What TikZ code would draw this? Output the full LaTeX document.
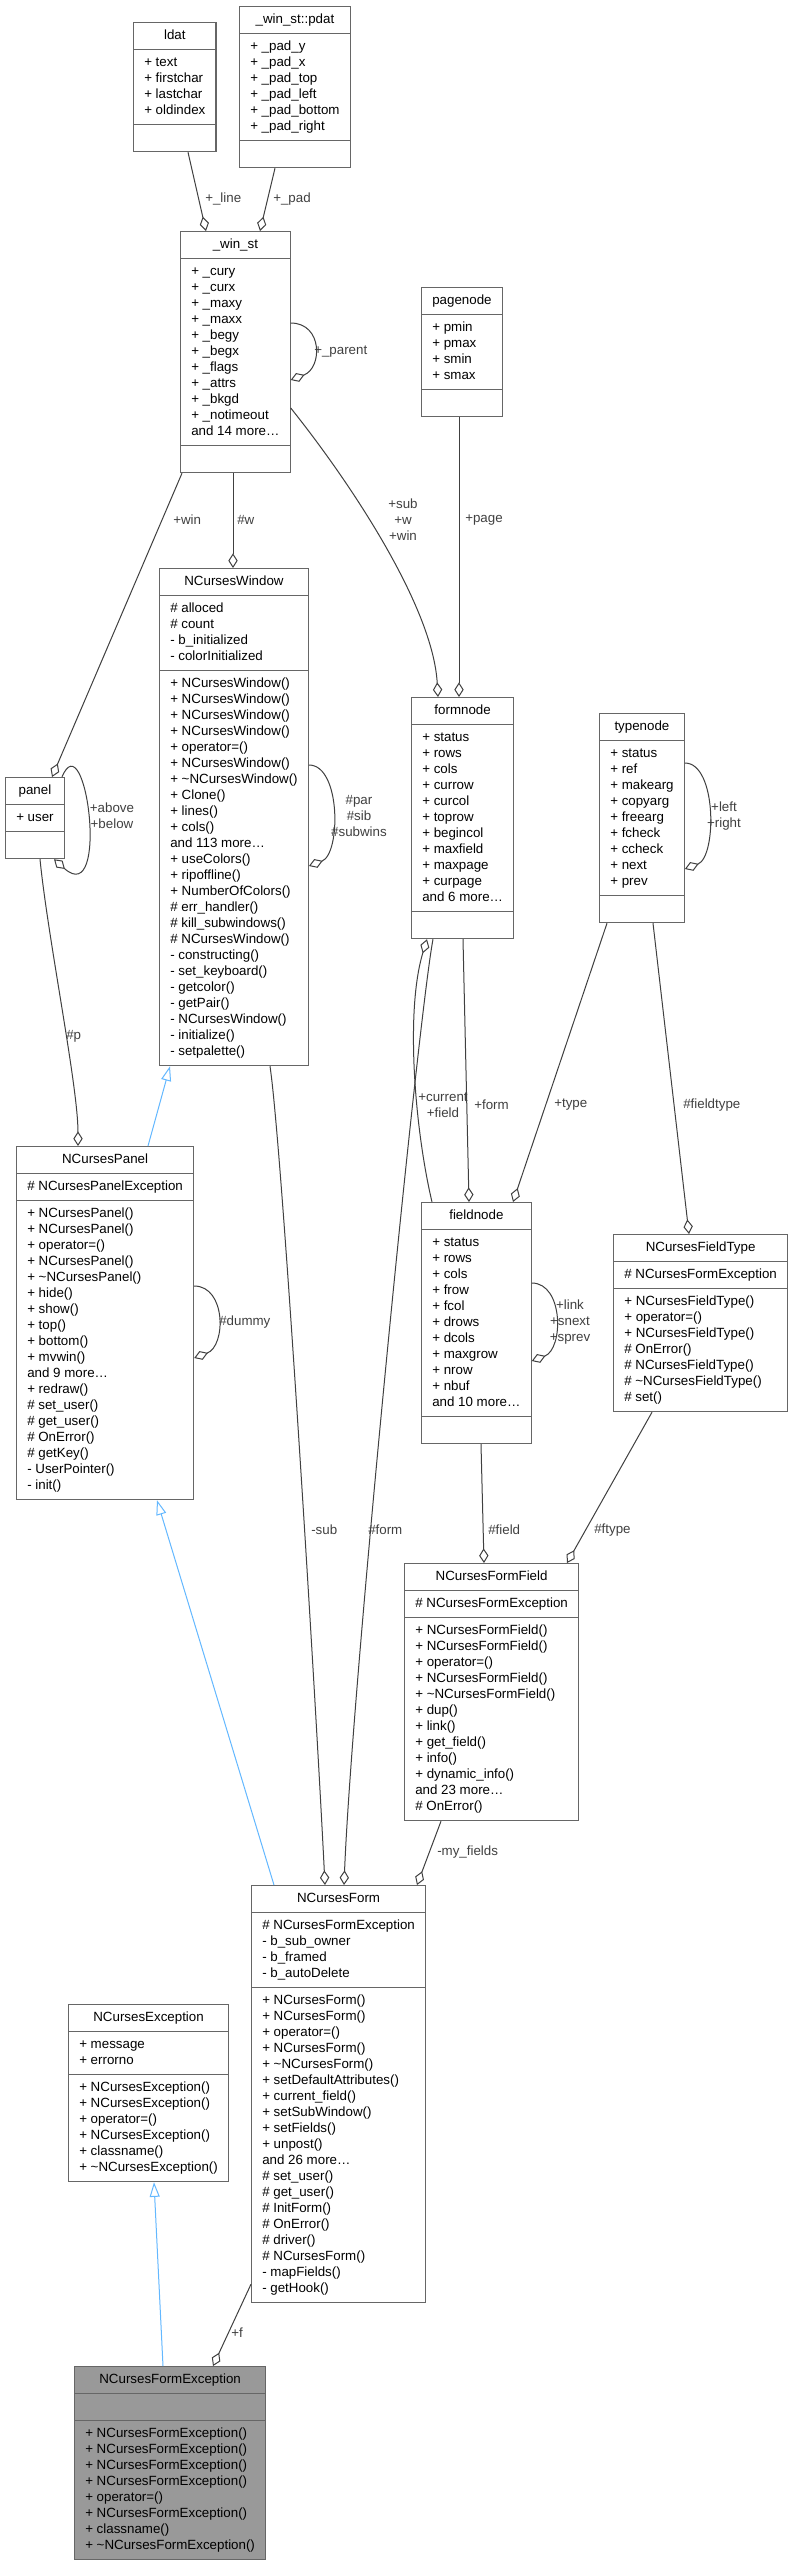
\documentclass[tikz,border=0pt]{standalone}
\usepackage{fontspec}
\setmainfont{Liberation Sans}
\usetikzlibrary{shapes.multipart, arrows.meta, calc}

\definecolor{boxline}{HTML}{666666}
\definecolor{edgeline}{HTML}{404040}
\definecolor{inherit}{HTML}{63B8FF}
\definecolor{current}{HTML}{999999}

% 类成员列表 (每行 12pt)
\newcommand{\members}[1]{\begin{tabular}{@{}l@{}}#1\end{tabular}}

\tikzset{
  classbox/.style={rectangle split, rectangle split parts=3,
    rectangle split part align={center,left,left},
    draw=boxline, fill=white, line width=0.9pt,
    inner xsep=8pt, inner ysep=3.675pt, anchor=north west,
    font=\fontsize{10}{12}\selectfont},
  aggr/.style={edgeline, line width=0.75pt, -{Diamond[open, length=11pt, width=7pt]}},
  inh/.style={inherit, line width=0.75pt, -{Triangle[open, length=11pt, width=7.5pt]}},
  lbl/.style={text=edgeline, font=\fontsize{10}{12}\selectfont, inner sep=0pt, anchor=west},
  lbls/.style={lbl, anchor=center, align=center},
}

\begin{document}
\begin{tikzpicture}[x=0.75pt, y=-0.75pt]
    % --- 画布 (像素坐标, y 向下) ---
    \fill[white] (0,0) rectangle (791,2564);

    % --- 类框 ---
    \node[classbox] (ldat) at (133,22) {\strut ldat
        \nodepart{two}\members{+ text\\+ firstchar\\+ lastchar\\+ oldindex}
        \nodepart{three}\strut};
    \node[classbox] (pdat) at (239,6) {\strut \_win\_st::pdat
        \nodepart{two}\members{+ \_pad\_y\\+ \_pad\_x\\+ \_pad\_top\\+ \_pad\_left\\+ \_pad\_bottom\\+ \_pad\_right}
        \nodepart{three}\strut};
    \node[classbox] (winst) at (180,231) {\strut \_win\_st
        \nodepart{two}\members{+ \_cury\\+ \_curx\\+ \_maxy\\+ \_maxx\\+ \_begy\\+ \_begx\\+ \_flags\\+ \_attrs\\+ \_bkgd\\+ \_notimeout\\and 14 more…}
        \nodepart{three}\strut};
    \node[classbox] (pagenode) at (421,287) {\strut pagenode
        \nodepart{two}\members{+ pmin\\+ pmax\\+ smin\\+ smax}
        \nodepart{three}\strut};
    \node[classbox] (ncwin) at (159,568) {\strut NCursesWindow
        \nodepart{two}\members{\# alloced\\\# count\\- b\_initialized\\- colorInitialized}
        \nodepart{three}\members{+ NCursesWindow()\\+ NCursesWindow()\\+ NCursesWindow()\\+ NCursesWindow()\\+ operator=()\\+ NCursesWindow()\\+ \textasciitilde NCursesWindow()\\+ Clone()\\+ lines()\\+ cols()\\and 113 more…\\+ useColors()\\+ ripoffline()\\+ NumberOfColors()\\\# err\_handler()\\\# kill\_subwindows()\\\# NCursesWindow()\\- constructing()\\- set\_keyboard()\\- getcolor()\\- getPair()\\- NCursesWindow()\\- initialize()\\- setpalette()}};
    \node[classbox] (panel) at (5,777) {\strut panel
        \nodepart{two}\members{+ user}
        \nodepart{three}\strut};
    \node[classbox] (formnode) at (411,697) {\strut formnode
        \nodepart{two}\members{+ status\\+ rows\\+ cols\\+ currow\\+ curcol\\+ toprow\\+ begincol\\+ maxfield\\+ maxpage\\+ curpage\\and 6 more…}
        \nodepart{three}\strut};
    \node[classbox] (typenode) at (599,713) {\strut typenode
        \nodepart{two}\members{+ status\\+ ref\\+ makearg\\+ copyarg\\+ freearg\\+ fcheck\\+ ccheck\\+ next\\+ prev}
        \nodepart{three}\strut};
    \node[classbox] (ncpanel) at (16,1146) {\strut NCursesPanel
        \nodepart{two}\members{\# NCursesPanelException}
        \nodepart{three}\members{+ NCursesPanel()\\+ NCursesPanel()\\+ operator=()\\+ NCursesPanel()\\+ \textasciitilde NCursesPanel()\\+ hide()\\+ show()\\+ top()\\+ bottom()\\+ mvwin()\\and 9 more…\\+ redraw()\\\# set\_user()\\\# get\_user()\\\# OnError()\\\# getKey()\\- UserPointer()\\- init()}};
    \node[classbox] (fieldnode) at (421,1202) {\strut fieldnode
        \nodepart{two}\members{+ status\\+ rows\\+ cols\\+ frow\\+ fcol\\+ drows\\+ dcols\\+ maxgrow\\+ nrow\\+ nbuf\\and 10 more…}
        \nodepart{three}\strut};
    \node[classbox] (fieldtype) at (613,1234) {\strut NCursesFieldType
        \nodepart{two}\members{\# NCursesFormException}
        \nodepart{three}\members{+ NCursesFieldType()\\+ operator=()\\+ NCursesFieldType()\\\# OnError()\\\# NCursesFieldType()\\\# \textasciitilde NCursesFieldType()\\\# set()}};
    \node[classbox] (formfield) at (404,1563) {\strut NCursesFormField
        \nodepart{two}\members{\# NCursesFormException}
        \nodepart{three}\members{+ NCursesFormField()\\+ NCursesFormField()\\+ operator=()\\+ NCursesFormField()\\+ \textasciitilde NCursesFormField()\\+ dup()\\+ link()\\+ get\_field()\\+ info()\\+ dynamic\_info()\\and 23 more…\\\# OnError()}};
    \node[classbox] (ncform) at (251,1885) {\strut NCursesForm
        \nodepart{two}\members{\# NCursesFormException\\- b\_sub\_owner\\- b\_framed\\- b\_autoDelete}
        \nodepart{three}\members{+ NCursesForm()\\+ NCursesForm()\\+ operator=()\\+ NCursesForm()\\+ \textasciitilde NCursesForm()\\+ setDefaultAttributes()\\+ current\_field()\\+ setSubWindow()\\+ setFields()\\+ unpost()\\and 26 more…\\\# set\_user()\\\# get\_user()\\\# InitForm()\\\# OnError()\\\# driver()\\\# NCursesForm()\\- mapFields()\\- getHook()}};
    \node[classbox] (ncexc) at (68,2004) {\strut NCursesException
        \nodepart{two}\members{+ message\\+ errorno}
        \nodepart{three}\members{+ NCursesException()\\+ NCursesException()\\+ operator=()\\+ NCursesException()\\+ classname()\\+ \textasciitilde NCursesException()}};
    % 当前类 (灰色)
    \node[classbox, fill=current] (formexc) at (74,2366) {\strut NCursesFormException
        \nodepart{two}\strut
        \nodepart{three}\members{+ NCursesFormException()\\+ NCursesFormException()\\+ NCursesFormException()\\+ NCursesFormException()\\+ operator=()\\+ NCursesFormException()\\+ classname()\\+ \textasciitilde NCursesFormException()}};

    % --- 聚合关系 (空心菱形) ---
    \draw[aggr] ($(ldat.south west)+(55,0)$) -- ($(winst.north west)+(26,0)$);
    \draw[aggr] ($(pdat.south west)+(36,0)$) -- ($(winst.north west)+(80,0)$);
    \draw[aggr] ($(winst.north east)+(0,92)$) .. controls +(32,0) and +(32,-12) .. ($(winst.north east)+(0,149)$);
    \draw[aggr] ($(winst.south west)+(2,0)$) -- ($(panel.north west)+(47,0)$);
    \draw[aggr] ($(winst.south west)+(53,0)$) -- ($(ncwin.north west)+(74,0)$);
    \draw[aggr] ($(winst.north east)+(0,177)$) .. controls +(60,75) and +(-5,-90) .. ($(formnode.north west)+(27,0)$);
    \draw[aggr] ($(pagenode.south west)+(38,0)$) -- ($(formnode.north west)+(48,0)$);
    \draw[aggr] ($(panel.north east)+(-3,0)$) .. controls +(24,-57) and +(56,50) .. ($(panel.south west)+(49,0)$);
    \draw[aggr] ($(panel.south west)+(35,0)$) .. controls +(8,80) and +(0,-60) .. ($(ncpanel.north west)+(62,0)$);
    \draw[aggr] ($(ncwin.north east)+(0,197)$) .. controls +(32,0) and +(32,-12) .. ($(ncwin.north east)+(0,298)$);
    \draw[aggr] ($(ncpanel.north east)+(0,140)$) .. controls +(32,0) and +(32,-12) .. ($(ncpanel.north east)+(0,212)$);
    \draw[aggr] ($(ncwin.south west)+(111,0)$) .. controls +(12,80) and +(-10,-200) .. ($(ncform.north west)+(74,0)$);
    \draw[aggr] ($(formnode.south west)+(22,0)$) .. controls +(-15,80) and +(8,-200) .. ($(ncform.north west)+(93,0)$);
    \draw[aggr] ($(fieldnode.north west)+(11,0)$) .. controls +(-17,-72) and +(-22,72) .. ($(formnode.south west)+(16,0)$);
    \draw[aggr] ($(formnode.south west)+(52,0)$) -- ($(fieldnode.north west)+(48,0)$);
    \draw[aggr] ($(typenode.south west)+(8,0)$) -- ($(fieldnode.north west)+(92,0)$);
    \draw[aggr] ($(typenode.north east)+(0,50)$) .. controls +(32,0) and +(32,-12) .. ($(typenode.north east)+(0,156)$);
    \draw[aggr] ($(typenode.south west)+(54,0)$) -- ($(fieldtype.north west)+(76,0)$);
    \draw[aggr] ($(fieldnode.north east)+(0,81)$) .. controls +(32,0) and +(32,-12) .. ($(fieldnode.north east)+(0,159)$);
    \draw[aggr] ($(fieldnode.south west)+(60,0)$) -- ($(formfield.north west)+(80,0)$);
    \draw[aggr] ($(fieldtype.south west)+(39,0)$) -- ($(formfield.north west)+(163,0)$);
    \draw[aggr] ($(formfield.south west)+(37,0)$) -- ($(ncform.north west)+(166,0)$);
    \draw[aggr] ($(ncform.south west)+(0,-19)$) -- ($(formexc.north west)+(139,0)$);

    % --- 继承关系 (蓝色, 空心三角) ---
    \draw[inh] ($(ncpanel.north west)+(132,0)$) -- ($(ncwin.south west)+(11,0)$);
    \draw[inh] ($(ncform.north west)+(23,0)$) -- ($(ncpanel.south west)+(141,0)$);
    \draw[inh] ($(formexc.north west)+(89,0)$) -- ($(ncexc.south west)+(86,0)$);

    % --- 连线标签 ---
    \node[lbl] (lline) at (205,199) {+\_line};
    \node[lbl] (lpad) at (273,199) {+\_pad};
    \node[lbl] (lparent) at (314,352) {+\_parent};
    \node[lbl] (lwin) at (173,520) {+win};
    \node[lbl] (lw) at (237,520) {\#w};
    \node[lbls] (lsubwin) at (403,520) {+sub\\+w\\+win};
    \node[lbl] (lpage) at (465,520) {+page};
    \node[lbls] (labove) at (112,816) {+above\\+below};
    \node[lbls] (lpar) at (359,816) {\#par\\\#sib\\\#subwins};
    \node[lbl] (lp) at (66,1036) {\#p};
    \node[lbl] (ldummy) at (219,1322) {\#dummy};
    \node[lbls] (lcurrent) at (443,1105) {+current\\+field};
    \node[lbl] (lform) at (474,1105) {+form};
    \node[lbl] (ltype) at (554,1105) {+type};
    \node[lbl] (lfieldtype) at (683,1105) {\#fieldtype};
    \node[lbls] (lleft) at (724,816) {+left\\+right};
    \node[lbls] (llink) at (570,1322) {+link\\+snext\\+sprev};
    \node[lbl] (lsub) at (311,1530) {-sub};
    \node[lbl] (lform2) at (368,1530) {\#form};
    \node[lbl] (lfield) at (488,1530) {\#field};
    \node[lbl] (lftype) at (594,1530) {\#ftype};
    \node[lbl] (lmyfields) at (437,1852) {-my\_fields};
    \node[lbl] (lf) at (231,2333) {+f};
\end{tikzpicture}
\end{document}
